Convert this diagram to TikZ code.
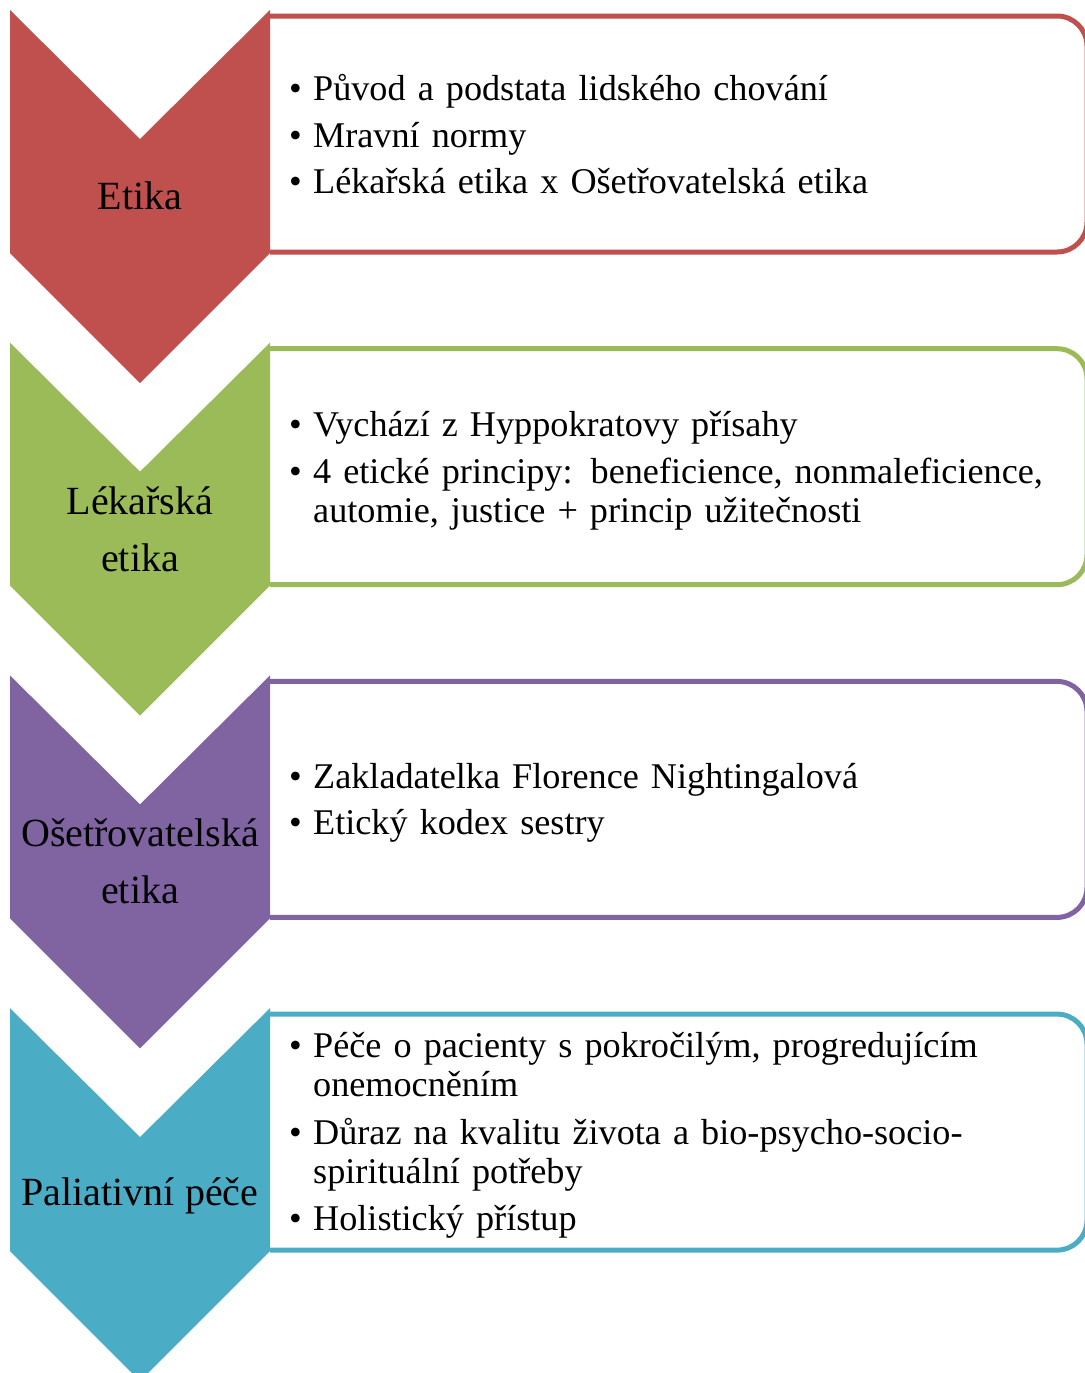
\documentclass[tikz,border=0pt]{standalone}
\usepackage{fontspec}
\setmainfont{Liberation Serif}
\usepackage{xcolor}
\usepackage{tikz}
\usetikzlibrary{positioning}

\definecolor{etred}{HTML}{C0504D}
\definecolor{etgreen}{HTML}{9BBB59}
\definecolor{etpurple}{HTML}{8064A2}
\definecolor{etblue}{HTML}{4BACC6}

% one bullet line, wrapped lines hang under the text
\newcommand{\bitem}[1]{\par\noindent\makebox[24pt][l]{\textbullet}\parbox[t]{760pt}{\raggedright\strut #1\strut}}

\tikzset{
  stagelbl/.style={align=center, inner sep=0pt, font=\fontsize{40}{57}\selectfont},
  itembox/.style={anchor=west, inner sep=0pt, text width=790pt, align=left,
    font=\fontsize{36.2}{39}\selectfont, execute at begin node={\setlength{\parskip}{7.5pt}}}
}

\begin{document}
\begin{tikzpicture}[x=1pt,y=-1pt]
\useasboundingbox (0,0) rectangle (1084,1373);
% chevrons with their boxes
\foreach \col [count=\i from 0] in {etred,etgreen,etpurple,etblue}{
  \pgfmathsetmacro{\ytop}{10+332.7*\i}
  \draw[line width=5pt, draw=\col, rounded corners=30pt]
    (270,\ytop+6) -- (1087,\ytop+6) -- (1087,\ytop+242) -- (270,\ytop+242);
  \fill[\col] (10,\ytop) -- (140,\ytop+129) -- (270,\ytop) -- (270,\ytop+243)
    -- (140,\ytop+373) -- (10,\ytop+243) -- cycle;
}
% stage labels
\node[stagelbl] (etika) at (140,196) {Etika};
\node[stagelbl] (lekarska) at (140,529) {Lékařská\\etika};
\node[stagelbl] (osetrovatelska) at (140,861) {Ošetřovatelská\\etika};
\node[stagelbl] (paliativni) at (140,1196) {Paliativní péče};
% bullet texts
\node[itembox] (etika-txt) at (289,130) {\bitem{Původ a podstata lidského chování}
  \bitem{Mravní normy}
  \bitem{Lékařská etika x Ošetřovatelská etika}};
\node[itembox] (lekarska-txt) at (289,462) {\bitem{Vychází z Hyppokratovy přísahy}
  \bitem{4 etické principy: beneficience, nonmaleficience,\\automie, justice + princip užitečnosti}};
\node[itembox] (osetrovatelska-txt) at (289,794) {\bitem{Zakladatelka Florence Nightingalová}
  \bitem{Etický kodex sestry}};
\node[itembox] (paliativni-txt) at (289,1127) {\bitem{Péče o pacienty s pokročilým, progredujícím\\onemocněním}
  \bitem{Důraz na kvalitu života a bio-psycho-socio-\\spirituální potřeby}
  \bitem{Holistický přístup}};
\end{tikzpicture}
\end{document}
